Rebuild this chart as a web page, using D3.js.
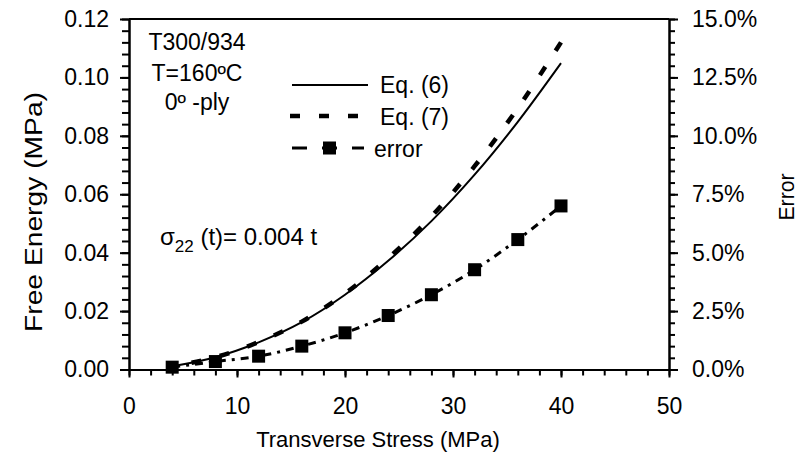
<!DOCTYPE html>
<html>
<head>
<meta charset="utf-8">
<script src="https://cdn.jsdelivr.net/npm/d3@7"></script>
<style>
  body { margin: 0; background: #fff; }
  svg { display: block; }
  text { font-family: "Liberation Sans", Arial, Helvetica, sans-serif; fill: #000; }
</style>
</head>
<body>
<svg id="chart" width="798" height="454"></svg>
<script>
// Transverse stress (MPa) at which each model was evaluated
const stress = [4, 8, 12, 16, 20, 24, 28, 32, 36, 40];
// Free energy (MPa) from Eq. (6)
const eq6 = [0.0011, 0.0042, 0.0093, 0.0162, 0.0256, 0.0372, 0.0508, 0.0667, 0.0848, 0.1049];
// Free energy (MPa) from Eq. (7)
const eq7 = [0.0011, 0.0042, 0.0094, 0.0164, 0.0260, 0.0381, 0.0524, 0.0696, 0.0895, 0.1120];
// Relative error between the two expressions (%)
const errorPct = [0.10, 0.34, 0.57, 1.00, 1.57, 2.31, 3.20, 4.27, 5.56, 7.00];

const xTicks = [0, 10, 20, 30, 40, 50];
const yTicks = [0, 0.02, 0.04, 0.06, 0.08, 0.10, 0.12];
const yRightTicks = [0, 2.5, 5.0, 7.5, 10.0, 12.5, 15.0];

const svg = d3.select("#chart");
const plotL = 129, plotR = 669, plotT = 19, plotB = 369.5;

const x = d3.scaleLinear().domain([0, 50]).range([plotL, plotR]);
const y = d3.scaleLinear().domain([0, 0.12]).range([plotB, plotT]);
const yR = d3.scaleLinear().domain([0, 15]).range([plotB, plotT]);

const FS = 23;

function styleAxis(g) {
  g.selectAll("path.domain").attr("stroke", "#000").attr("stroke-width", 2);
  g.selectAll(".tick line").attr("stroke", "#000").attr("stroke-width", 2);
  g.selectAll(".tick text").attr("font-size", FS).attr("font-family", "Liberation Sans, Arial, sans-serif").attr("fill", "#000");
}

// minor ticks
const xMinor = d3.range(0, 50.001, 2);
const yMinor = d3.range(0, 0.12001, 0.004);
const yRMinor = d3.range(0, 15.001, 0.5);

svg.append("g").attr("transform", `translate(0,${plotB})`)
  .call(d3.axisBottom(x).tickValues(xMinor).tickSize(6).tickSizeOuter(0).tickFormat(""))
  .call(styleAxis);
svg.append("g").attr("transform", `translate(${plotL},0)`)
  .call(d3.axisLeft(y).tickValues(yMinor).tickSize(7).tickSizeOuter(0).tickFormat(""))
  .call(styleAxis);
svg.append("g").attr("transform", `translate(${plotR},0)`)
  .call(d3.axisRight(yR).tickValues(yRMinor).tickSize(6).tickSizeOuter(0).tickFormat(""))
  .call(styleAxis);

// major ticks with labels
svg.append("g").attr("transform", `translate(0,${plotB})`)
  .call(d3.axisBottom(x).tickValues(xTicks).tickSize(8).tickSizeOuter(0).tickPadding(20).tickFormat(d3.format("d")))
  .call(styleAxis);
svg.append("g").attr("transform", `translate(${plotL},0)`)
  .call(d3.axisLeft(y).tickValues(yTicks).tickSize(9).tickSizeOuter(0).tickPadding(11).tickFormat(d3.format(".2f")))
  .call(styleAxis);
svg.append("g").attr("transform", `translate(${plotR},0)`)
  .call(d3.axisRight(yR).tickValues(yRightTicks).tickSize(9).tickSizeOuter(0).tickPadding(14).tickFormat(d => d.toFixed(1) + "%"))
  .call(styleAxis);

// top frame line
svg.append("line").attr("x1", plotL).attr("x2", plotR).attr("y1", plotT).attr("y2", plotT)
  .attr("stroke", "#000").attr("stroke-width", 2);

// axis titles
svg.append("text").attr("x", 378).attr("y", 447)
  .attr("text-anchor", "middle").attr("font-size", 22).text("Transverse Stress (MPa)");
svg.append("text").attr("transform", "translate(42,212) rotate(-90)")
  .attr("text-anchor", "middle").attr("font-size", FS)
  .attr("textLength", 240).attr("lengthAdjust", "spacingAndGlyphs").text("Free Energy (MPa)");
svg.append("text").attr("transform", "translate(794,197) rotate(-90)")
  .attr("text-anchor", "middle").attr("font-size", 22)
  .attr("textLength", 47).attr("lengthAdjust", "spacingAndGlyphs").text("Error");

// curves
const pts6 = stress.map((s, i) => [s, eq6[i]]);
const pts7 = stress.map((s, i) => [s, eq7[i]]);
const ptsE = stress.map((s, i) => [s, errorPct[i]]);

const lineL = d3.line().x(d => x(d[0])).y(d => y(d[1])).curve(d3.curveMonotoneX);
const lineR = d3.line().x(d => x(d[0])).y(d => yR(d[1])).curve(d3.curveMonotoneX);

svg.append("path").attr("d", lineL(pts6)).attr("fill", "none")
  .attr("stroke", "#000").attr("stroke-width", 2);

// Eq. (7): thick dashes, phased so the curve ends on a full dash
const DASH = 10, GAP = 19;
const p7 = svg.append("path").attr("d", lineL(pts7)).attr("fill", "none")
  .attr("stroke", "#000").attr("stroke-width", 4.5).attr("stroke-dasharray", `${DASH},${GAP}`);
const len7 = p7.node().getTotalLength();
const period = DASH + GAP;
p7.attr("stroke-dashoffset", ((DASH - (len7 % period)) % period + period) % period);

svg.append("path").attr("d", lineR(ptsE)).attr("fill", "none")
  .attr("stroke", "#000").attr("stroke-width", 3).attr("stroke-dasharray", "8,6,3,6");

const SQ = 13;
svg.append("g").selectAll("rect").data(ptsE).join("rect")
  .attr("x", d => x(d[0]) - SQ / 2).attr("y", d => yR(d[1]) - SQ / 2)
  .attr("width", SQ).attr("height", SQ).attr("fill", "#000");

// legend
const lg = svg.append("g");
lg.append("line").attr("x1", 292).attr("x2", 368).attr("y1", 85).attr("y2", 85)
  .attr("stroke", "#000").attr("stroke-width", 2);
lg.append("text").attr("x", 380).attr("y", 93).attr("font-size", FS).text("Eq. (6)");
lg.append("line").attr("x1", 290).attr("x2", 368).attr("y1", 116).attr("y2", 116)
  .attr("stroke", "#000").attr("stroke-width", 4.5).attr("stroke-dasharray", `${DASH},${GAP}`);
lg.append("text").attr("x", 380).attr("y", 125).attr("font-size", FS).text("Eq. (7)");
lg.append("line").attr("x1", 292).attr("x2", 364).attr("y1", 148).attr("y2", 148)
  .attr("stroke", "#000").attr("stroke-width", 3).attr("stroke-dasharray", "15,15");
lg.append("rect").attr("x", 329.5 - SQ / 2).attr("y", 148 - SQ / 2).attr("width", SQ).attr("height", SQ).attr("fill", "#000");
lg.append("text").attr("x", 374).attr("y", 157).attr("font-size", FS).text("error");

// annotations
const ann = svg.append("g").attr("font-size", FS).attr("text-anchor", "middle");
ann.append("text").attr("x", 197).attr("y", 50).text("T300/934");
ann.append("text").attr("x", 197).attr("y", 81).text("T=160ºC");
ann.append("text").attr("x", 197).attr("y", 110).text("0º -ply");

const sig = svg.append("text").attr("x", 160).attr("y", 245).attr("font-size", 24);
sig.append("tspan").text("σ");
sig.append("tspan").attr("font-size", 17).attr("dy", 7).text("22");
sig.append("tspan").attr("dy", -7).text(" (t)= 0.004 t");
</script>
</body>
</html>
